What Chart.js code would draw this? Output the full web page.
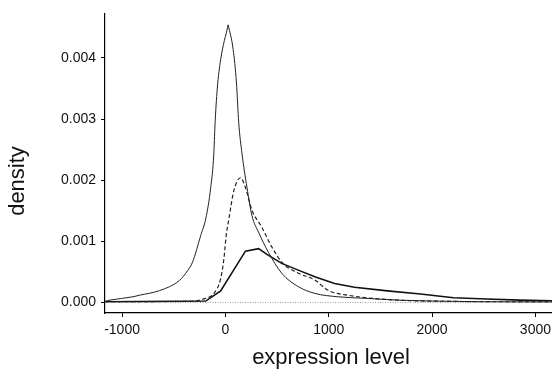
<!DOCTYPE html>
<html>
<head>
<meta charset="utf-8">
<script src="https://cdn.jsdelivr.net/npm/chart.js@4/dist/chart.umd.min.js"></script>
<style>
html,body{margin:0;padding:0;background:#fff;}
#wrap{width:556px;height:376px;position:relative;}
</style>
</head>
<body>
<div id="wrap"><canvas id="c" width="556" height="376"></canvas></div>
<script>
// expression level values and density estimates
// sharp-peaked curve, rising side (up to the peak) and falling side (from the peak)
const sharpRiseX = [-1165,-1117,-894,-830,-638,-446,-366,-318,-238,-190,-142,-112,-101,-79,-46,27];
const sharpRiseY = [0.00002,0.00004,0.000094,0.00012,0.000195,0.00036,0.00052,0.00066,0.0011,0.00137,0.00188,0.00243,0.00289,0.00349,0.00397,0.00454];
const sharpFallX = [27,75,107,129,161,209,257,321,417,545,705,865,1089,1345,1664,2200,2800,3160];
const sharpFallY = [0.00454,0.00414,0.00359,0.00294,0.00243,0.00188,0.00142,0.00115,0.00082,0.00048,0.00026,0.00015,0.000094,0.00007,0.00004,0.00002,0.00001,0.00001];

const dashX = [-1165,-350,-190,-110,-46,-14,8,34,82,146,194,257,353,449,545,705,865,993,1185,1664,2144,3160];
const dashY = [0.00001,0.00002,0.00007,0.00015,0.00039,0.00072,0.0011,0.00137,0.00183,0.00204,0.00188,0.00151,0.00123,0.00091,0.00066,0.00048,0.00037,0.0002,0.00012,0.00004,0.00002,0.00001];

const wideX = [-1165,-190,-46,194,321,417,545,705,865,1057,1249,1568,1888,2208,2528,2847,3160];
const wideY = [0.000013,0.000024,0.00019,0.00084,0.00088,0.00077,0.00064,0.00053,0.00042,0.00031,0.00025,0.00019,0.00014,0.000078,0.000057,0.00004,0.00003];

const zeroX = [-1165,3160];
const zeroY = [0,0];

const xTicks = [-1000,0,1000,2000,3000];
const yTicks = [0,0.001,0.002,0.003,0.004];
const xLabel = "expression level";
const yLabel = "density";

const pts = (xs, ys) => xs.map((x,i)=>({x:x,y:ys[i]}));
const FONT = "'Liberation Sans', Arial, sans-serif";

const titlePlugin = {
  id:'titles',
  afterDraw(chart){
    const ctx = chart.ctx;
    ctx.save();
    ctx.fillStyle = '#111';
    ctx.font = "22px " + FONT;
    ctx.textAlign = 'center';
    ctx.textBaseline = 'middle';
    ctx.fillText(xLabel, 331, 358);
    ctx.translate(18, 181);
    ctx.rotate(-Math.PI/2);
    ctx.fillText(yLabel, 0, 0);
    ctx.restore();
  }
};

new Chart(document.getElementById('c'), {
  type: 'line',
  data: {
    datasets: [
      {data: pts(zeroX, zeroY), borderColor:'#999', borderWidth:1, borderDash:[1,1.5], pointRadius:0, tension:0},
      {data: pts(sharpRiseX, sharpRiseY), borderColor:'#222', borderWidth:1, pointRadius:0, cubicInterpolationMode:'monotone'},
      {data: pts(sharpFallX, sharpFallY), borderColor:'#222', borderWidth:1, pointRadius:0, cubicInterpolationMode:'monotone'},
      {data: pts(dashX, dashY), borderColor:'#222', borderWidth:1.2, borderDash:[4,2.5], pointRadius:0, cubicInterpolationMode:'monotone'},
      {data: pts(wideX, wideY), borderColor:'#111', borderWidth:1.6, pointRadius:0, tension:0}
    ]
  },
  options: {
    responsive:false,
    animation:false,
    events:[],
    layout:{padding:{top:12,right:0,left:0,bottom:0}},
    plugins:{legend:{display:false}, tooltip:{enabled:false}},
    scales:{
      x:{
        type:'linear', min:-1165, max:3160,
        afterFit(s){ s.height = 63; },
        afterBuildTicks(s){ s.ticks = xTicks.map(v=>({value:v})); },
        grid:{drawOnChartArea:false, drawTicks:true, tickLength:4, color:'#000', lineWidth:1},
        border:{display:true, color:'#000', width:1.2},
        ticks:{padding:5, color:'#111', font:{family:FONT, size:14}, maxRotation:0, autoSkip:false,
          callback:(v)=>String(v)}
      },
      y:{
        type:'linear', min:-0.000171, max:0.004727,
        afterFit(s){ s.width = 105; },
        afterBuildTicks(s){ s.ticks = yTicks.map(v=>({value:v})); },
        grid:{drawOnChartArea:false, drawTicks:true, tickLength:4, color:'#000', lineWidth:1},
        border:{display:true, color:'#000', width:1.2},
        ticks:{padding:5, color:'#111', font:{family:FONT, size:14}, autoSkip:false,
          callback:(v)=>Number(v).toFixed(3)}
      }
    }
  },
  plugins:[titlePlugin]
});
</script>
</body>
</html>
